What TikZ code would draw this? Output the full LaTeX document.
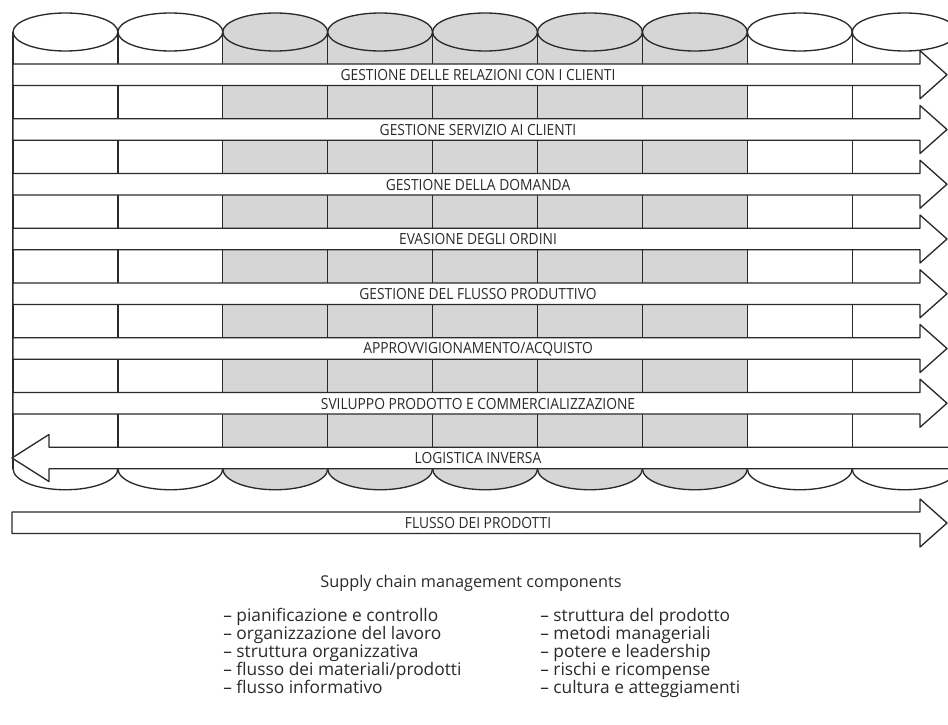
\documentclass[tikz,border=0pt]{standalone}
\usepackage{fontspec}
\setmainfont{Open Sans}
\newfontfamily\bandfont[FakeStretch=0.9]{Open Sans}

\definecolor{cellgray}{HTML}{D6D6D6}
\definecolor{ink}{HTML}{2A2A2A}

\tikzset{
  outline/.style={draw=ink, line width=1pt, line join=round},
  band/.style={outline, fill=white},
  bandlabel/.style={font=\bandfont\fontsize{11.5}{13}\selectfont, text=ink, inner sep=0pt},
  listitem/.style={font=\fontsize{13}{15}\selectfont, text=ink, anchor=base west, inner sep=0pt},
}

\begin{document}
\begin{tikzpicture}[x=0.75pt, y=-0.75pt]
  \useasboundingbox (0,0) rectangle (948,724);
  \clip (0,0) rectangle (948,724);
  \fill[white] (0,0) rectangle (948,724);

  % geometry: column width, left edge, cylinder top / bottom levels
  \def\cw{104.9}
  \def\xl{13}
  \def\ytop{32}
  \def\ybot{468.75}
  \def\rt{19}
  \def\rb{21}

  % column bodies, top ellipses and bottom half-ellipses
  \foreach \i in {0,...,8}{
    \pgfmathsetmacro{\xa}{\xl+\i*\cw}
    \pgfmathsetmacro{\xb}{\xa+\cw}
    \pgfmathsetmacro{\xc}{\xa+\cw/2}
    \pgfmathsetmacro{\rx}{\cw/2}
    \pgfmathsetmacro{\kx}{0.5523*\rx}
    \pgfmathsetmacro{\ky}{0.5523*\rb}
    \pgfmathsetmacro{\yb}{\ybot+\rb}
    \pgfmathsetmacro{\ykb}{\ybot+\ky}
    \ifnum\i>1 \ifnum\i<7 \def\colfill{cellgray}\else\def\colfill{white}\fi\else\def\colfill{white}\fi
    \fill[fill=\colfill] (\xa,\ytop) rectangle (\xb,\ybot);
    \fill[fill=\colfill] (\xc,\ytop) ellipse [x radius=\rx, y radius=\rt];
    \filldraw[fill=\colfill, outline]
      (\xa,\ybot) .. controls (\xa,\ykb) and (\xc-\kx,\yb) .. (\xc,\yb)
                  .. controls (\xc+\kx,\yb) and (\xb,\ykb) .. (\xb,\ybot);
    \draw[outline] (\xc,\ytop) ellipse [x radius=\rx, y radius=\rt];
  }
  % column walls
  \foreach \i in {0,...,9}{
    \draw[outline] (\xl+\i*\cw,\ytop) -- (\xl+\i*\cw,\ybot);
  }

  % process arrows, pointing right
  \foreach \k/\name/\txt in {
      0/crm/{GESTIONE DELLE RELAZIONI CON I CLIENTI},
      1/csm/{GESTIONE SERVIZIO AI CLIENTI},
      2/dem/{GESTIONE DELLA DOMANDA},
      3/ord/{EVASIONE DEGLI ORDINI},
      4/mfg/{GESTIONE DEL FLUSSO PRODUTTIVO},
      5/buy/{APPROVVIGIONAMENTO/ACQUISTO},
      6/dev/{SVILUPPO PRODOTTO E COMMERCIALIZZAZIONE}}{
    \pgfmathsetmacro{\ta}{64+54.75*\k}
    \pgfmathsetmacro{\tb}{\ta+21.5}
    \pgfmathsetmacro{\tc}{\ta+10.75}
    \draw[band] (\xl,\ta) -- (920,\ta) -- (920,\tc-24) -- (947,\tc)
      -- (920,\tc+24) -- (920,\tb) -- (\xl,\tb) -- cycle;
    \node[bandlabel] (\name) at (478,\tc+0.5) {\txt};
  }

  % returns arrow, pointing left
  \pgfmathsetmacro{\ta}{64+54.75*7}
  \pgfmathsetmacro{\tb}{\ta+21.5}
  \pgfmathsetmacro{\tc}{\ta+10.75}
  \draw[band] (49,\tc-23.5) -- (12,\tc) -- (49,\tc+23.5) -- (49,\tb)
    -- (960,\tb) -- (960,\ta) -- (49,\ta) -- cycle;
  \node[bandlabel] (rev) at (478,\tc+0.5) {LOGISTICA INVERSA};

  % product flow arrow
  \draw[band] (12,512) -- (920,512) -- (920,499) -- (947,523)
    -- (920,547) -- (920,533.5) -- (12,533.5) -- cycle;
  \node[bandlabel] (flow) at (478,523.5) {FLUSSO DEI PRODOTTI};

  % components list
  \node[font=\fontsize{12.2}{14}\selectfont, text=ink, anchor=base, inner sep=0pt]
    (title) at (471,587) {Supply chain management components};
  \foreach \n/\txt [count=\j from 0] in {
      l1/{pianificazione e controllo},
      l2/{organizzazione del lavoro},
      l3/{struttura organizzativa},
      l4/{flusso dei materiali/prodotti},
      l5/{flusso informativo}}{
    \node[listitem] (\n) at (223,621+18.2*\j) {– \txt};
  }
  \foreach \n/\txt [count=\j from 0] in {
      r1/{struttura del prodotto},
      r2/{metodi manageriali},
      r3/{potere e leadership},
      r4/{rischi e ricompense},
      r5/{cultura e atteggiamenti}}{
    \node[listitem] (\n) at (540,621+18.2*\j) {– \txt};
  }
\end{tikzpicture}
\end{document}
